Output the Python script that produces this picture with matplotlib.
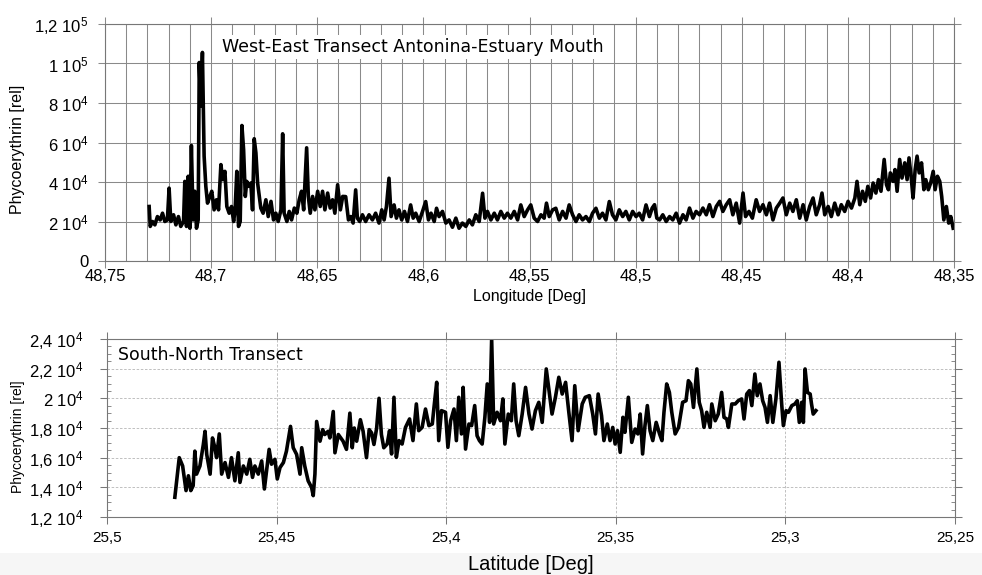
import numpy as np
import matplotlib
matplotlib.use('Agg')
import matplotlib.pyplot as plt
from matplotlib.patches import Rectangle
from matplotlib.ticker import FixedLocator, MultipleLocator

plt.rcParams['font.family'] = ['Liberation Sans', 'DejaVu Sans']
plt.rcParams['mathtext.default'] = 'regular'

# West-East transect: longitude [deg] and phycoerythrin [1e3 rel]
lon_we = [48.7292, 48.7287, 48.7276, 48.7265, 48.7253, 48.7240, 48.7229, 48.7218, 48.7206, 48.7198,
          48.7190, 48.7177, 48.7166, 48.7154, 48.7143, 48.7130, 48.7124, 48.7116, 48.7108, 48.7100,
          48.7093, 48.7085, 48.7077, 48.7069, 48.7061, 48.7056, 48.7049, 48.7041, 48.7033, 48.7025,
          48.7017, 48.7006, 48.6997, 48.6986, 48.6975, 48.6965, 48.6954, 48.6945, 48.6935, 48.6926,
          48.6915, 48.6904, 48.6894, 48.6887, 48.6879, 48.6871, 48.6863, 48.6855, 48.6847, 48.6839,
          48.6832, 48.6822, 48.6813, 48.6805, 48.6797, 48.6789, 48.6781, 48.6773, 48.6766, 48.6755,
          48.6742, 48.6731, 48.6718, 48.6706, 48.6695, 48.6684, 48.6671, 48.6663, 48.6656, 48.6643,
          48.6632, 48.6621, 48.6608, 48.6596, 48.6585, 48.6574, 48.6564, 48.6550, 48.6542, 48.6533,
          48.6522, 48.6511, 48.6498, 48.6486, 48.6475, 48.6464, 48.6451, 48.6439, 48.6428, 48.6417,
          48.6404, 48.6391, 48.6380,
          48.6366, 48.6353, 48.6342, 48.6331, 48.6319, 48.6311, 48.6300, 48.6287, 48.6272, 48.6256,
          48.6240, 48.6225, 48.6209, 48.6196, 48.6185, 48.6174, 48.6162, 48.6152, 48.6138, 48.6127,
          48.6115, 48.6102, 48.6089, 48.6075, 48.6060, 48.6048, 48.6036, 48.6020, 48.6004, 48.5989,
          48.5976, 48.5964, 48.5949, 48.5938, 48.5926, 48.5910, 48.5894, 48.5879, 48.5863, 48.5847,
          48.5832, 48.5816, 48.5800, 48.5784, 48.5769, 48.5753, 48.5737, 48.5721, 48.5710, 48.5698,
          48.5682, 48.5666, 48.5651, 48.5635, 48.5619, 48.5604, 48.5588, 48.5572, 48.5556, 48.5541,
          48.5525, 48.5509, 48.5494, 48.5478, 48.5462, 48.5446, 48.5431, 48.5420, 48.5407, 48.5391,
          48.5376, 48.5360, 48.5344, 48.5328, 48.5313, 48.5297, 48.5281, 48.5266, 48.5250, 48.5234,
          48.5218, 48.5203, 48.5187, 48.5171, 48.5156, 48.5140, 48.5124, 48.5109, 48.5093, 48.5077,
          48.5061, 48.5046, 48.5030, 48.5014, 48.4998, 48.4983, 48.4967, 48.4951,
          48.4935, 48.4922, 48.4911, 48.4900, 48.4887, 48.4872, 48.4856, 48.4840, 48.4825, 48.4809,
          48.4793, 48.4777, 48.4762, 48.4746, 48.4730, 48.4715, 48.4699, 48.4683, 48.4667, 48.4652,
          48.4636, 48.4620, 48.4604, 48.4589, 48.4573, 48.4557, 48.4542, 48.4526, 48.4510, 48.4494,
          48.4482, 48.4466, 48.4450, 48.4432, 48.4416, 48.4400, 48.4384, 48.4369, 48.4353, 48.4337,
          48.4321, 48.4306, 48.4290, 48.4274, 48.4259, 48.4243, 48.4227, 48.4211, 48.4196, 48.4180,
          48.4164, 48.4149, 48.4133, 48.4122, 48.4109, 48.4093, 48.4078, 48.4062, 48.4046, 48.4031,
          48.4015, 48.3999, 48.3983, 48.3967, 48.3957, 48.3944, 48.3931, 48.3918, 48.3906, 48.3893,
          48.3881, 48.3868, 48.3856, 48.3844, 48.3829, 48.3818, 48.3809, 48.3800, 48.3787, 48.3778,
          48.3768, 48.3756, 48.3745, 48.3732, 48.3721, 48.3712, 48.3702, 48.3693, 48.3683, 48.3674,
          48.3664, 48.3653, 48.3642, 48.3633, 48.3621, 48.3610, 48.3598, 48.3589, 48.3578, 48.3567,
          48.3558, 48.3548, 48.3536, 48.3525, 48.3515, 48.3504]
pe_we = [27.6, 17.5, 20.0, 18.3, 22.5, 20.8, 24.2, 20.0, 20.8, 36.9,
         20.0, 23.4, 18.3, 22.5, 17.5, 20.0, 40.3, 17.5, 42.9, 16.6,
         58.5, 20.8, 35.3, 16.6, 20.8, 100.5, 78.5, 105.6, 53.1, 37.8,
         29.3, 32.7, 35.3, 25.9, 31.0, 25.9, 48.8, 41.2, 45.4, 27.6,
         24.2, 27.6, 20.0, 25.9, 45.4, 17.5, 20.0, 68.6, 56.4, 32.7,
         40.3, 37.8, 39.5, 25.9, 61.9, 54.7, 39.5, 32.7, 26.8, 24.2,
         31.0, 22.5, 30.2, 20.8, 24.2, 20.0, 25.9, 64.4, 24.2, 20.0,
         25.1, 20.8, 26.8, 24.2, 31.0, 35.3, 25.9, 57.3, 32.7, 24.2,
         32.7, 25.9, 35.3, 27.6, 35.3, 25.9, 34.4, 26.8, 31.0, 24.2,
         38.6, 25.9, 32.7,
         32.6, 20.8, 22.5, 19.2, 36.0, 21.7, 20.0, 23.4, 20.0, 23.4,
         20.8, 24.2, 19.2, 25.9, 20.8, 27.6, 41.9, 22.5, 28.4, 21.7,
         25.9, 20.8, 25.1, 20.0, 28.4, 21.7, 24.2, 20.0, 25.1, 30.1,
         20.8, 24.2, 20.0, 26.7, 22.5, 25.1, 19.2, 20.8, 17.1, 21.7,
         16.6, 19.2, 17.5, 20.8, 18.3, 23.4, 20.0, 34.3, 21.7, 25.1,
         20.8, 24.2, 20.8, 25.1, 21.7, 24.2, 21.7, 25.1, 20.8, 28.4,
         22.5, 25.9, 28.4, 21.7, 20.0, 23.4, 21.7, 29.3, 22.5, 25.9,
         26.7, 20.8, 25.1, 21.7, 28.4, 23.4, 20.0, 23.4, 20.8, 22.5,
         20.0, 24.2, 26.7, 21.7, 24.2, 20.8, 30.1, 23.4, 20.8, 25.9,
         22.5, 25.1, 20.8, 25.1, 22.5, 24.2, 20.8, 28.4,
         22.5, 26.8, 28.5, 21.7, 20.8, 23.4, 20.0, 22.5, 20.8, 24.2,
         19.2, 23.4, 20.8, 26.8, 21.7, 25.1, 23.4, 26.8, 23.4, 28.5,
         22.5, 27.6, 30.2, 25.1, 28.5, 31.0, 23.4, 29.3, 19.2, 34.4,
         22.5, 25.1, 21.7, 31.0, 25.1, 28.5, 23.4, 29.3, 20.8, 26.8,
         29.3, 31.9, 23.4, 29.3, 25.1, 31.0, 21.7, 28.5, 20.8, 27.6,
         31.9, 23.4, 28.5, 34.4, 23.4, 27.6, 22.5, 29.3, 23.4, 28.5,
         25.1, 30.2, 26.8, 31.9, 40.3, 28.5, 35.3, 30.2, 37.8, 31.9,
         39.5, 34.4, 41.2, 35.3, 51.4, 38.6, 36.1, 44.6, 40.3, 46.3,
         35.3, 51.4, 42.0, 49.7, 41.2, 52.2, 42.9, 31.9, 46.3, 53.1,
         44.6, 49.7, 36.1, 41.2, 36.1, 39.5, 45.4, 36.1, 42.9, 40.3,
         32.7, 20.8, 27.6, 19.2, 22.5, 16.6]

# South-North transect: latitude [deg] and phycoerythrin [1e3 rel]
lat_sn = [25.4800, 25.4787, 25.4777, 25.4767, 25.4760, 25.4753, 25.4746, 25.4741, 25.4736, 25.4726,
          25.4716, 25.4711, 25.4706, 25.4696, 25.4689, 25.4682, 25.4677, 25.4669, 25.4662, 25.4652,
          25.4642, 25.4633, 25.4623, 25.4613, 25.4608, 25.4598, 25.4588, 25.4579, 25.4571, 25.4564,
          25.4554, 25.4544, 25.4536, 25.4529, 25.4522, 25.4515, 25.4505, 25.4498, 25.4490, 25.4480,
          25.4471, 25.4459, 25.4451, 25.4441, 25.4431, 25.4426, 25.4417, 25.4407, 25.4397, 25.4392,
          25.4387, 25.4382, 25.4372, 25.4364, 25.4358, 25.4348, 25.4343, 25.4333, 25.4328, 25.4318,
          25.4311, 25.4304, 25.4294, 25.4284, 25.4277, 25.4271, 25.4264, 25.4253, 25.4245, 25.4235,
          25.4227, 25.4220, 25.4213, 25.4205, 25.4198, 25.4191, 25.4184,
          25.4174, 25.4167, 25.4161, 25.4154, 25.4147, 25.4139, 25.4130, 25.4120, 25.4108, 25.4098,
          25.4088, 25.4081, 25.4071, 25.4061, 25.4051, 25.4041, 25.4036, 25.4028, 25.4022, 25.4014,
          25.4002, 25.3995, 25.3987, 25.3977, 25.3970, 25.3963, 25.3955, 25.3950, 25.3943, 25.3933,
          25.3925, 25.3916, 25.3909, 25.3902, 25.3894, 25.3886, 25.3879, 25.3872, 25.3866, 25.3860,
          25.3850, 25.3840, 25.3833, 25.3827, 25.3817, 25.3808, 25.3801, 25.3794, 25.3786, 25.3776,
          25.3766, 25.3756, 25.3747, 25.3737, 25.3727, 25.3717, 25.3705, 25.3698, 25.3688, 25.3678,
          25.3668, 25.3658, 25.3648, 25.3639, 25.3629, 25.3621, 25.3611, 25.3599, 25.3590, 25.3578,
          25.3568, 25.3560, 25.3552, 25.3542, 25.3535,
          25.3525, 25.3517, 25.3509, 25.3502, 25.3495, 25.3487, 25.3479, 25.3473, 25.3463, 25.3453,
          25.3443, 25.3435, 25.3428, 25.3421, 25.3414, 25.3407, 25.3399, 25.3391, 25.3381, 25.3371,
          25.3364, 25.3358, 25.3350, 25.3342, 25.3335, 25.3325, 25.3315, 25.3303, 25.3293, 25.3286,
          25.3279, 25.3271, 25.3261, 25.3254, 25.3247, 25.3240, 25.3232, 25.3222, 25.3217, 25.3207,
          25.3198, 25.3188, 25.3181, 25.3173, 25.3168, 25.3158, 25.3148, 25.3139, 25.3129, 25.3122,
          25.3114, 25.3106, 25.3099, 25.3090, 25.3083, 25.3075, 25.3067, 25.3060, 25.3053, 25.3045,
          25.3037, 25.3028, 25.3019, 25.3011, 25.3006, 25.2998, 25.2991, 25.2981, 25.2972, 25.2965,
          25.2959, 25.2952, 25.2947, 25.2942, 25.2935, 25.2927, 25.2923, 25.2918, 25.2910]
pe_sn = [13.33, 16.00, 15.44, 13.78, 14.78, 13.78, 14.11, 16.44, 14.89, 15.44,
         16.89, 17.78, 16.22, 14.89, 17.33, 16.67, 16.00, 17.60, 14.89, 15.67,
         14.67, 16.00, 14.44, 16.33, 14.33, 15.44, 14.89, 15.89, 14.67, 15.44,
         14.89, 15.78, 13.89, 15.22, 16.56, 15.56, 15.89, 14.56, 15.33, 15.67,
         16.44, 18.11, 16.67, 16.22, 14.89, 16.67, 15.44, 14.44, 14.00, 13.44,
         14.89, 18.44, 17.11, 17.89, 17.56, 17.78, 17.33, 19.11, 16.33, 17.56,
         17.33, 17.11, 16.56, 19.00, 16.67, 18.00, 17.11, 18.56, 17.78, 16.00,
         17.89, 17.67, 16.89, 18.00, 20.00, 17.56, 16.67,
         16.92, 17.82, 16.25, 20.07, 16.02, 17.15, 16.92, 18.04, 18.61, 17.15,
         19.62, 17.82, 18.04, 19.28, 18.16, 18.27, 19.39, 21.08, 17.15, 19.17,
         19.06, 16.70, 18.49, 19.28, 17.15, 20.07, 17.60, 20.74, 16.58, 18.27,
         18.16, 19.51, 17.48, 17.15, 16.92, 18.72, 20.97, 18.38, 24.00, 18.27,
         19.06, 18.49, 19.96, 16.92, 18.94, 18.49, 20.97, 18.49, 17.48, 18.94,
         20.74, 18.94, 17.93, 19.17, 19.73, 18.38, 21.98, 20.74, 18.94, 20.07,
         21.42, 20.29, 21.08, 19.17, 17.15, 20.85, 17.82, 19.62, 20.07, 20.18,
         18.94, 17.60, 20.29, 18.83, 17.15,
         18.27, 17.15, 18.04, 16.92, 17.82, 16.36, 18.72, 17.71, 20.07, 17.03,
         17.93, 17.60, 18.94, 16.25, 18.16, 19.51, 17.82, 17.15, 18.38, 17.60,
         17.15, 19.06, 20.97, 20.40, 19.06, 17.60, 18.04, 19.73, 19.84, 21.19,
         20.97, 19.39, 21.98, 19.73, 19.17, 18.04, 19.06, 18.04, 19.62, 18.49,
         18.94, 20.40, 18.72, 18.61, 18.04, 19.62, 19.62, 19.84, 19.96, 18.61,
         20.29, 20.52, 19.51, 21.64, 20.18, 20.97, 19.84, 19.39, 18.38, 20.18,
         18.38, 19.96, 22.43, 19.62, 18.16, 19.17, 19.06, 19.51, 19.62, 19.84,
         18.38, 19.73, 18.38, 21.98, 20.40, 20.29, 19.62, 18.94, 19.17]

lon_ticks = [48.75, 48.7, 48.65, 48.6, 48.55, 48.5, 48.45, 48.4, 48.35]
lon_labels = ['48,75', '48,7', '48,65', '48,6', '48,55', '48,5', '48,45', '48,4', '48,35']
we_yticks = [0, 2e4, 4e4, 6e4, 8e4, 1e5, 1.2e5]
we_ylabels = ['0', '2 $10^4$', '4 $10^4$', '6 $10^4$', '8 $10^4$', '1 $10^5$', '1,2 $10^5$']

lat_ticks = [25.5, 25.45, 25.4, 25.35, 25.3, 25.25]
lat_labels = ['25,5', '25,45', '25,4', '25,35', '25,3', '25,25']
sn_yticks = [1.2e4, 1.4e4, 1.6e4, 1.8e4, 2e4, 2.2e4, 2.4e4]
sn_ylabels = ['1,2 $10^4$', '1,4 $10^4$', '1,6 $10^4$', '1,8 $10^4$', '2 $10^4$', '2,2 $10^4$', '2,4 $10^4$']

W, H = 982, 575
fig = plt.figure(figsize=(W / 100, H / 100), dpi=100)
fig.patches.append(Rectangle((0, 0), 1, 22 / H, transform=fig.transFigure,
                             facecolor='#f6f6f6', edgecolor='none', zorder=-5))

# ---- top panel
ax1 = fig.add_axes([105 / W, 1 - 261 / H, 849 / W, 237 / H])
ax1.plot(lon_we, np.array(pe_we) * 1e3, color='black', lw=2.6)
ax1.set_xlim(48.75, 48.35)
ax1.set_ylim(0, 1.2e5)
ax1.xaxis.set_major_locator(FixedLocator(lon_ticks))
ax1.set_xticklabels(lon_labels)
ax1.xaxis.set_minor_locator(MultipleLocator(0.01))
ax1.yaxis.set_major_locator(FixedLocator(we_yticks))
ax1.set_yticklabels(we_ylabels)
ax1.set_axisbelow(True)
ax1.grid(which='both', axis='x', color='#8a8a8a', lw=0.75)
ax1.grid(which='major', axis='y', color='#8a8a8a', lw=0.75)
ax1.tick_params(which='major', direction='out', length=5, width=0.75, color='#8a8a8a',
                top=True, right=True, labelsize=12)
ax1.tick_params(axis='x', pad=0.5)
ax1.tick_params(axis='y', pad=7)
ax1.tick_params(which='minor', length=0)
for s in ax1.spines.values():
    s.set_color('#777777')
    s.set_linewidth(0.8)
ax1.text(0.138, 0.903, 'West-East Transect Antonina-Estuary Mouth', transform=ax1.transAxes,
         ha='left', va='center', fontsize=12.5, family='DejaVu Sans',
         bbox=dict(facecolor='white', edgecolor='none', pad=2))
ax1.set_ylabel('Phycoerythrin [rel]', fontsize=11.5)
ax1.yaxis.set_label_coords(-0.094, 0.47)
ax1.set_xlabel('Longitude [Deg]', fontsize=11.5)
ax1.xaxis.set_label_coords(0.5, -0.118)

# ---- bottom panel
ax2 = fig.add_axes([107 / W, 1 - 517 / H, 848 / W, 178 / H])
ax2.plot(lat_sn, np.array(pe_sn) * 1e3, color='black', lw=2.6)
ax2.set_xlim(25.5, 25.25)
ax2.set_ylim(1.2e4, 2.4e4)
ax2.xaxis.set_major_locator(FixedLocator(lat_ticks))
ax2.set_xticklabels(lat_labels)
ax2.yaxis.set_major_locator(FixedLocator(sn_yticks))
ax2.set_yticklabels(sn_ylabels)
ax2.yaxis.set_minor_locator(MultipleLocator(500))
ax2.set_axisbelow(True)
ax2.grid(which='major', color='#b5b5b5', lw=0.6, ls=(0, (3, 2)))
ax2.tick_params(which='major', direction='out', length=5, width=0.75, color='#777777',
                top=True, right=True)
ax2.tick_params(axis='x', labelsize=11, pad=5)
ax2.tick_params(axis='y', labelsize=12, pad=12)
ax2.tick_params(which='minor', axis='y', direction='in', length=3, width=0.6,
                color='#777777', left=True, right=True)
for s in ax2.spines.values():
    s.set_color('#777777')
    s.set_linewidth(0.8)
ax2.text(0.013, 0.91, 'South-North Transect', transform=ax2.transAxes,
         ha='left', va='center', fontsize=12.5, family='DejaVu Sans')
ax2.set_ylabel('Phycoerythrin [rel]', fontsize=10)
ax2.yaxis.set_label_coords(-0.097, 0.45)
ax2.set_xlabel('Latitude [Deg]', fontsize=14.5)
ax2.xaxis.set_label_coords(0.5, -0.215)

fig.savefig('out.png', dpi=100)
